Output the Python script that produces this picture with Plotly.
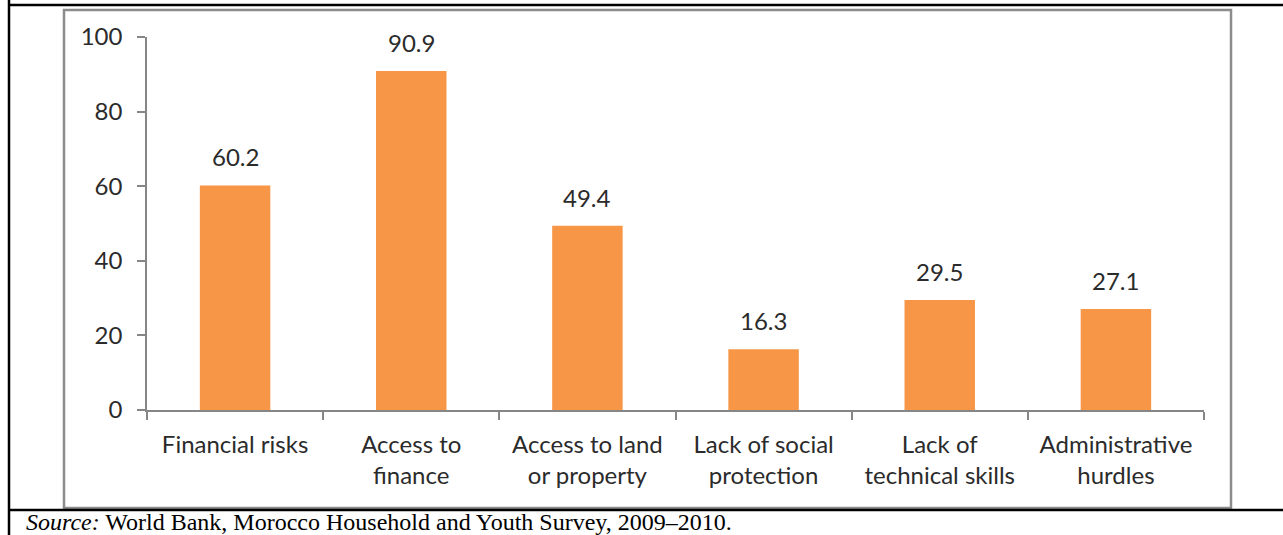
import plotly.graph_objects as go

categories = ["Financial risks", "Access to<br>finance", "Access to land<br>or property",
              "Lack of social<br>protection", "Lack of<br>technical skills", "Administrative<br>hurdles"]
values = [60.2, 90.9, 49.4, 16.3, 29.5, 27.1]
value_labels = ["60.2", "90.9", "49.4", "16.3", "29.5", "27.1"]
y_ticks = [0, 20, 40, 60, 80, 100]

FONT = "Lato"
TXT = "#2b2b2b"
AX = "#868686"
FS = 24

fig = go.Figure()
fig.add_trace(go.Bar(x=categories, y=values, marker=dict(color="#F79646", line=dict(width=0)),
                     width=0.4, hoverinfo="skip"))

for c, v, t in zip(categories, values, value_labels):
    fig.add_annotation(x=c, y=v, text=t, showarrow=False, yanchor="bottom", yshift=12,
                       font=dict(family=FONT, size=FS, color=TXT))

fig.update_layout(
    width=1283, height=535,
    margin=dict(l=147, r=79, t=37, b=125),
    paper_bgcolor="white", plot_bgcolor="white",
    showlegend=False,
    xaxis=dict(type="category", showline=True, linecolor=AX, linewidth=1.5,
               ticks="outside", tickson="boundaries", ticklen=8, tickcolor=AX, tickwidth=1.5,
               ticklabelstandoff=12,
               tickfont=dict(family=FONT, size=FS, color=TXT), showgrid=False),
    yaxis=dict(range=[0, 100], tickvals=y_ticks, showline=True, linecolor=AX, linewidth=1.5,
               ticks="outside", ticklen=8, tickcolor=AX, tickwidth=1.5,
               ticklabelstandoff=10,
               tickfont=dict(family=FONT, size=FS, color=TXT), showgrid=False, zeroline=False),
    shapes=[
        dict(type="rect", xref="paper", yref="paper",
             x0=(64 - 147) / 1057, x1=(1231 - 147) / 1057,
             y0=(410 - 508) / 373, y1=(410 - 10) / 373,
             line=dict(color="#8c8c8c", width=2.5), layer="below"),
        dict(type="line", xref="paper", yref="paper",
             x0=(9 - 147) / 1057, x1=(1290 - 147) / 1057,
             y0=(410 - 5) / 373, y1=(410 - 5) / 373,
             line=dict(color="black", width=2.5)),
        dict(type="line", xref="paper", yref="paper",
             x0=(9 - 147) / 1057, x1=(1290 - 147) / 1057,
             y0=(410 - 510) / 373, y1=(410 - 510) / 373,
             line=dict(color="black", width=2.5)),
        dict(type="line", xref="paper", yref="paper",
             x0=(9 - 147) / 1057, x1=(9 - 147) / 1057,
             y0=(410 - 540) / 373, y1=(410 - 0) / 373,
             line=dict(color="black", width=2.5)),
    ],
)

fig.add_annotation(xref="paper", yref="paper", x=(24 - 147) / 1057, y=(410 - 537) / 373,
                   xanchor="left", yanchor="bottom", showarrow=False,
                   text="<i>Source:</i> World Bank, Morocco Household and Youth Survey, 2009–2010.",
                   font=dict(family="Liberation Serif", size=24, color="black"))

fig.write_html("out.html", config={"displayModeBar": False},
               post_script="document.body.style.margin='0';document.body.style.overflow='hidden';")
